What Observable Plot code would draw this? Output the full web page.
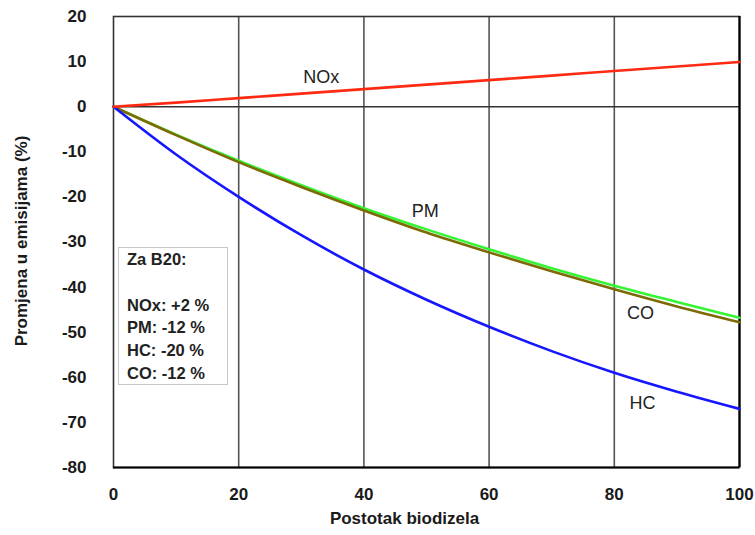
<!DOCTYPE html>
<html>
<head>
<meta charset="utf-8">
<script src="https://cdn.jsdelivr.net/npm/d3@7"></script>
<script src="https://cdn.jsdelivr.net/npm/@observablehq/plot@0.6"></script>
<style>
  html, body { margin: 0; padding: 0; background: #fff; }
  #wrap { position: relative; width: 755px; height: 535px; font-family: "Liberation Sans", Arial, sans-serif; }
  #box { position: absolute; left: 118px; top: 247px; width: 100px; height: 136px;
         border: 1.5px solid #c8c8c8; background: #fff; box-sizing: content-box;
         font-weight: bold; font-size: 16.5px; line-height: 22.8px; color: #222;
         padding-left: 8px; white-space: pre; }
</style>
</head>
<body>
<div id="wrap"></div>
<script>
// Biodiesel share (%)
const blend = [0, 10, 20, 30, 40, 50, 60, 70, 80, 90, 100];
// Change in emissions (%)
const nox = [0, 0.9, 1.9, 2.9, 3.9, 4.9, 5.9, 6.9, 7.9, 8.9, 9.9];
const pm  = [0, -6.2, -12.0, -17.4, -22.5, -27.2, -31.6, -35.8, -39.7, -43.3, -46.8];
const co  = [0, -6.3, -12.3, -17.8, -23.0, -27.9, -32.3, -36.5, -40.5, -44.3, -47.8];
const hc  = [0, -10.6, -20.0, -28.5, -36.1, -42.8, -48.8, -54.2, -59.0, -63.2, -67.0];

const seriesNames = ["PM", "CO", "HC", "NOx"];
const seriesColors = ["#33f533", "#7d6a05", "#1616ff", "#ff2a12"];
const seriesValues = [pm, co, hc, nox];

// Series label annotations (x, y in data units)
const labelNames = ["NOx", "PM", "CO", "HC"];
const labelX = [33.2, 49.8, 84.2, 84.5];
const labelY = [6.5, -23.2, -45.8, -65.8];

const xTicks = [0, 20, 40, 60, 80, 100];
const yTicks = [20, 10, 0, -10, -20, -30, -40, -50, -60, -70, -80];
const gridX = [20, 40, 60, 80];

const xTitle = "Postotak biodizela";
const yTitle = "Promjena u emisijama (%)";
const boxLines = ["Za B20:", "", "NOx: +2 %", "PM: -12 %", "HC: -20 %", "CO: -12 %"];

const rows = [];
seriesNames.forEach((name, i) => {
  blend.forEach((b, j) => rows.push({series: name, x: b, y: seriesValues[i][j]}));
});
const labels = labelNames.map((n, i) => ({name: n, x: labelX[i], y: labelY[i]}));

const fmt = d => String(d);

const chart = Plot.plot({
  width: 755,
  height: 535,
  marginLeft: 113,
  marginRight: 16,
  marginTop: 16,
  marginBottom: 68,
  style: {fontFamily: "'Liberation Sans', Arial, sans-serif", background: "#fff", color: "#1a1a1a"},
  x: {domain: [0, 100], ticks: xTicks, tickSize: 0, tickPadding: 20, label: null},
  y: {domain: [-80, 20], ticks: yTicks, tickSize: 0, tickPadding: 27, label: null},
  color: {domain: seriesNames, range: seriesColors},
  marks: [
    Plot.ruleX(gridX, {stroke: "#555", strokeWidth: 1.6}),
    Plot.ruleY([0], {stroke: "#333", strokeWidth: 1.6}),
    Plot.frame({stroke: "#333", strokeWidth: 1.6}),
    Plot.ruleX([100], {stroke: "#000", strokeWidth: 2.2}),
    Plot.ruleY([-80], {stroke: "#000", strokeWidth: 2.2}),
    Plot.line(rows, {x: "x", y: "y", z: "series", stroke: "series", strokeWidth: 2.6, curve: "monotone-x"}),
    Plot.text(labels, {x: "x", y: "y", text: "name", fontSize: 18, fill: "#222"}),
    Plot.axisX({ticks: xTicks, tickFormat: fmt, tickSize: 0, tickPadding: 20, fontSize: 17, fontWeight: "bold", fill: "#1a1a1a"}),
    Plot.axisY({ticks: yTicks, tickFormat: fmt, tickSize: 0, tickPadding: 27, fontSize: 17, fontWeight: "bold", fill: "#1a1a1a"}),
    Plot.text([xTitle], {frameAnchor: "bottom", dy: 56, dx: -22, fontSize: 17, fontWeight: "bold", fill: "#1a1a1a"}),
    Plot.text([yTitle], {frameAnchor: "left", textAnchor: "middle", dx: -92, dy: -1, rotate: -90, fontSize: 17, fontWeight: "bold", fill: "#1a1a1a"})
  ]
});

const wrap = document.getElementById("wrap");
wrap.appendChild(chart);
const box = document.createElement("div");
box.id = "box";
box.textContent = boxLines.join("\n");
wrap.appendChild(box);
</script>
</body>
</html>
